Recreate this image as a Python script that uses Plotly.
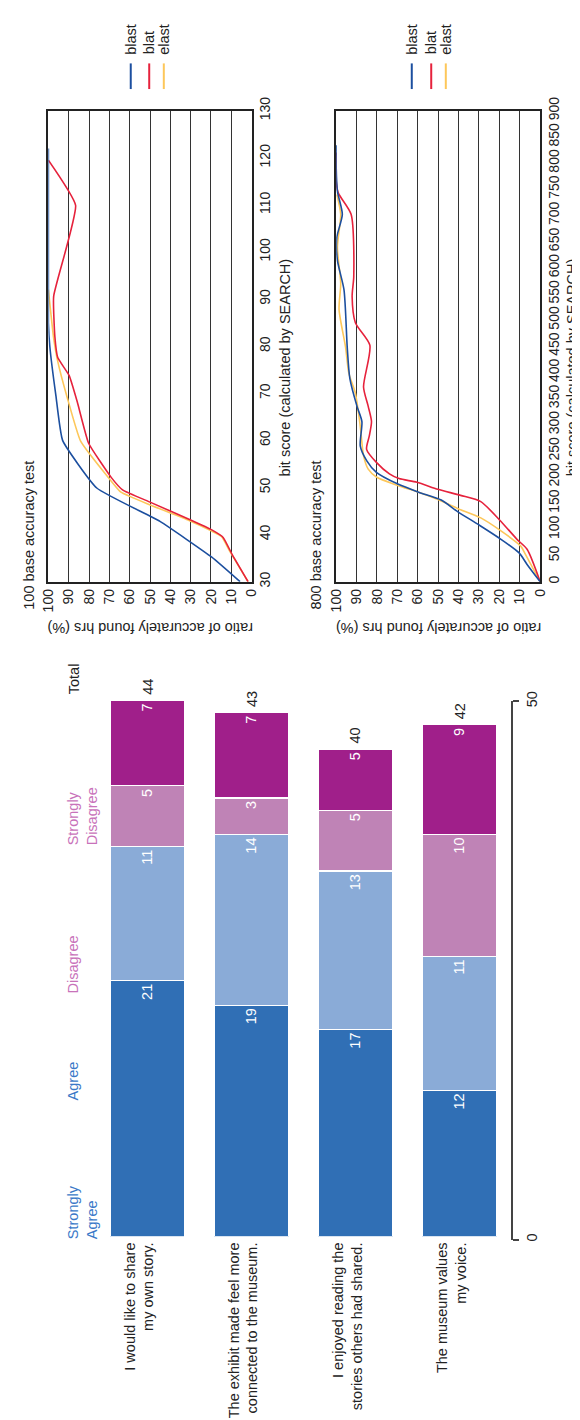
import plotly.graph_objects as go

FONT = "Liberation Sans, Arial, Helvetica, sans-serif"
W, H = 580, 1420

# ---- line charts: ratio of accurately found hrs (%) vs bit score ----
ratio_ticks = list(range(0, 101, 10))

# 100 base accuracy test
b100_blast_ratio = [5.7, 19.6, 45.1, 76.2, 93.0, 96.3, 99.3, 100, 100]
b100_blast_score = [30, 35.2, 42.8, 49.9, 60.0, 69.5, 80, 85, 122]
b100_blat_ratio = [1.75, 9.6, 14.0, 19.6, 30.0, 50.0, 63.5, 69.0, 80.2, 85.8, 89.8, 95.4, 96.8, 97.4, 86.6, 100]
b100_blat_score = [30, 35.8, 39.4, 41.0, 43.1, 46.9, 49.5, 52.1, 59.4, 68.2, 73.8, 77.6, 82, 90.6, 109.9, 119.5]
b100_elast_ratio = [1.75, 10.8, 14.8, 20.4, 30.8, 49.9, 64.3, 69.9, 84.2, 90.6, 95.5, 97.5, 100]
b100_elast_score = [30, 36.5, 39.6, 40.9, 43.0, 46.3, 49.0, 51.8, 59.9, 68.9, 77, 82, 92]

# 800 base accuracy test
b800_blast_ratio = [0, 6.4, 10.3, 20.7, 30.2, 40.5, 48.5, 59.6, 70.0, 80.3, 85.0, 88.2, 87.4, 89.8,
                    93.3, 94.6, 96.2, 99.4, 99.7, 97.0, 99.4, 100, 100]
b800_blast_score = [0, 33, 55, 85, 109, 134, 156, 171, 187, 209, 231, 259, 306, 335,
                    388, 448, 558, 614, 658, 702, 746, 790, 834]
b800_blat_ratio = [0, 6.4, 11.1, 19.9, 29.1, 39.0, 50.1, 60.4, 69.2, 73.9, 80.3, 85.1, 83.8, 82.7,
                   84.3, 86.6, 83.5, 90.6, 92.2, 91.4, 92.7, 99.0, 100, 100]
b800_blat_score = [0, 62, 80, 118, 153, 165, 176.5, 190, 197, 206, 228, 253, 278, 306,
                   335, 372, 452, 495, 545, 583, 702, 743, 765, 820]
b800_elast_ratio = [0, 7.2, 9.5, 19.9, 29.1, 40.5, 50.1, 59.6, 69.9, 80.3, 84.3, 86.6, 88.2, 90.6,
                    93.8, 95.4, 98.6, 97.8, 99.4, 97.8, 99.7]
b800_elast_score = [0, 52, 68, 99, 122, 140, 157, 171, 184, 200, 215, 241, 297, 360,
                    398, 448, 520, 570, 639, 702, 740]

series_colors = {"blast": "#1c4f9f", "blat": "#e6223c", "elast": "#fdc75a"}

# ---- survey bar chart ----
questions = ["I would like to share<br>my own story.",
             "The exhibit made feel more<br>connected to the museum.",
             "I enjoyed reading the<br>stories others had shared.",
             "The museum values<br>my voice."]
strongly_agree = [21, 19, 17, 12]
agree = [11, 14, 13, 11]
disagree = [5, 3, 5, 10]
strongly_disagree = [7, 7, 5, 9]
totals = [a + b + c + d for a, b, c, d in zip(strongly_agree, agree, disagree, strongly_disagree)]
value_ticks = [0, 50]


def px(x):
    return x / W


def py(y):
    return 1 - y / H


fig = go.Figure()

# line traces
for xa, ya, data in [
    ("x", "y", [("elast", b100_elast_ratio, b100_elast_score),
                ("blat", b100_blat_ratio, b100_blat_score),
                ("blast", b100_blast_ratio, b100_blast_score)]),
    ("x2", "y2", [("elast", b800_elast_ratio, b800_elast_score),
                  ("blat", b800_blat_ratio, b800_blat_score),
                  ("blast", b800_blast_ratio, b800_blast_score)]),
]:
    smooth = 0.4 if xa == "x" else 0.7
    for name, r, s in data:
        fig.add_trace(go.Scatter(
            x=r, y=s, mode="lines", name=name, xaxis=xa, yaxis=ya,
            line=dict(color=series_colors[name], width=1.6, shape="spline", smoothing=smooth),
        ))

# stacked bars
bar_cols = [("Strongly Agree", strongly_agree, "#306fb5"),
            ("Agree", agree, "#8aabd7"),
            ("Disagree", disagree, "#bf83b6"),
            ("Strongly Disagree", strongly_disagree, "#a01f8a")]
for name, vals, col in bar_cols:
    fig.add_trace(go.Bar(
        x=questions, y=vals, name=name, xaxis="x3", yaxis="y3",
        marker=dict(color=col, line=dict(color="white", width=1.2)),
        text=vals, textposition="inside", insidetextanchor="end", textangle=-90,
        textfont=dict(color="white", size=14.5, family=FONT),
    ))

# empty trace so the scale axis subplot exists
fig.add_trace(go.Scatter(x=[], y=[], xaxis="x4", yaxis="y4", showlegend=False))

line_axis = dict(showline=True, mirror=True, linecolor="#222", linewidth=1.5,
                 zeroline=False, ticks="", tickangle=-90,
                 tickfont=dict(size=14, color="#222"))

fig.update_layout(
    width=W, height=H,
    margin=dict(l=0, r=0, t=0, b=0),
    paper_bgcolor="white", plot_bgcolor="rgba(0,0,0,0)",
    showlegend=False, barmode="stack", bargap=0.285,
    font=dict(family=FONT, size=14, color="#222"),
    xaxis=dict(domain=[px(33.3), px(242.3)], range=[100, 0], tickvals=ratio_ticks,
               showgrid=True, gridcolor="#333", gridwidth=1.2, anchor="y", **line_axis),
    yaxis=dict(domain=[py(567.7), py(90)], range=[30, 130], tick0=30, dtick=10,
               side="right", showgrid=False, anchor="x", **line_axis),
    xaxis2=dict(domain=[px(329.3), px(539)], range=[100, 0], tickvals=ratio_ticks,
                showgrid=True, gridcolor="#333", gridwidth=1.2, anchor="y2", **line_axis),
    yaxis2=dict(domain=[py(567.7), py(90)], range=[0, 900], tick0=0, dtick=50,
                side="right", showgrid=False, anchor="x2", **line_axis),
    xaxis3=dict(domain=[px(81.5), px(509.5)], type="category", tickangle=-90,
                showline=False, ticks="", showgrid=False, zeroline=False, anchor="y3",
                ticklabelshift=-8, ticklabelstandoff=2,
                tickfont=dict(size=14.5, color="#222")),
    yaxis3=dict(domain=[py(1232), py(640)], range=[0, 47.9], visible=False, anchor="x3"),
    xaxis4=dict(domain=[px(81.5), px(509.5)], range=[0, 1], visible=False, anchor="y4"),
    yaxis4=dict(domain=[py(1235), py(689)], range=[0, 50], tickvals=value_ticks,
                side="right", anchor="x4", showline=True, linecolor="#444", linewidth=1.5,
                ticks="outside", ticklen=6, tickwidth=1.5, tickcolor="#444",
                showgrid=False, zeroline=False, tickangle=-90,
                tickfont=dict(size=14.5, color="#222")),
)

annotations = []
shapes = []


def text_ann(text, x, y, angle, xanchor="center", yanchor="middle", color="#222", size=14.5, align="center"):
    annotations.append(dict(text=text, x=px(x), y=py(y), xref="paper", yref="paper",
                            showarrow=False, textangle=angle, xanchor=xanchor, yanchor=yanchor,
                            align=align, font=dict(size=size, color=color, family=FONT)))


# chart titles and axis titles
for left, right, title_x, bit_x, leg_x in [(33.3, 242.3, 13, 277, [118, 137, 152]),
                                           (329.3, 539, 309, 572, [407, 427, 442])]:
    label = "100 base accuracy test" if left < 100 else "800 base accuracy test"
    text_ann(label, title_x, 598, -90, yanchor="bottom")
    text_ann("bit score (calculated by SEARCH)", bit_x, 350, -90)
    text_ann("ratio of accurately found hrs (%)", (left + right) / 2, 614, 180)
    for lx, name in zip(leg_x, ["blast", "blat", "elast"]):
        shapes.append(dict(type="line", xref="paper", yref="paper",
                           x0=px(lx), x1=px(lx), y0=py(42), y1=py(68),
                           line=dict(color=series_colors[name], width=2)))
        text_ann(name, lx, 35, -90, yanchor="bottom")

# bar chart category headers
blue_lbl, pink_lbl = "#3a79c8", "#c872ba"
text_ann("Strongly<br>Agree", 68.5, 1237, -90, yanchor="bottom", color=blue_lbl, align="left")
text_ann("Agree", 59, 1096, -90, yanchor="bottom", color=blue_lbl)
text_ann("Disagree", 59, 987, -90, yanchor="bottom", color=pink_lbl)
text_ann("Strongly<br>Disagree", 68, 837, -90, yanchor="bottom", color=pink_lbl, align="left")
text_ann("Total", 59, 684, -90, yanchor="bottom")

# totals above bars
for i, t in enumerate(totals):
    annotations.append(dict(text=str(t), x=i, y=t, xref="x3", yref="y3", showarrow=False,
                            textangle=-90, yanchor="bottom", xanchor="center", yshift=4,
                            font=dict(size=14.5, color="#222", family=FONT)))

fig.update_layout(annotations=annotations, shapes=shapes)

fig.write_html("out.html")
